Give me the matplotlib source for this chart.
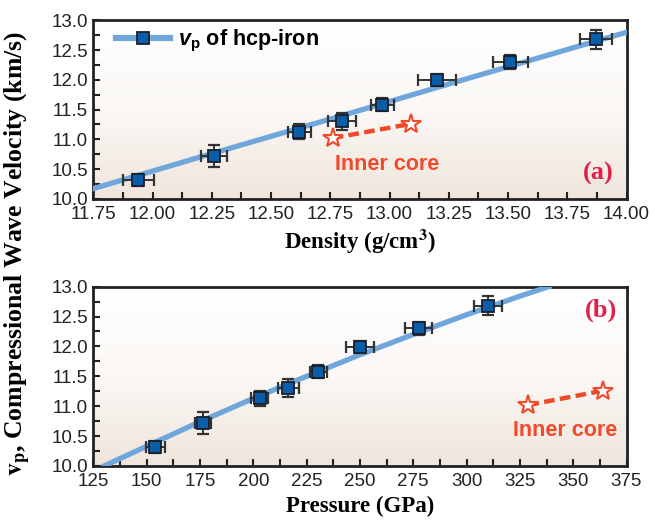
import numpy as np
import matplotlib
matplotlib.use("Agg")
import matplotlib.pyplot as plt
from matplotlib.colors import LinearSegmentedColormap
from matplotlib.ticker import MultipleLocator

plt.rcParams["font.family"] = ["Liberation Sans", "DejaVu Sans"]
plt.rcParams["mathtext.fontset"] = "custom"
plt.rcParams["mathtext.bf"] = "Liberation Sans:bold"
plt.rcParams["mathtext.bfit"] = "Liberation Sans:italic:bold"
plt.rcParams["mathtext.rm"] = "Liberation Sans"

# ── data ────────────────────────────────────────────────────────────────────
vp = [10.32, 10.72, 11.13, 11.30, 11.58, 11.99, 12.30, 12.68]
vp_err = [0.10, 0.19, 0.12, 0.15, 0.11, 0.10, 0.11, 0.16]

density = [11.94, 12.26, 12.62, 12.80, 12.97, 13.20, 13.51, 13.87]
density_err = [0.066, 0.056, 0.050, 0.060, 0.047, 0.080, 0.073, 0.067]

pressure = [154.0, 176.5, 203.0, 216.5, 230.5, 250.0, 277.5, 310.0]
pressure_err = [4.5, 3.9, 4.1, 5.1, 3.9, 6.7, 6.5, 6.6]

# fitted curves
fit_density = [11.75, 12.25, 12.75, 13.25, 13.75, 14.00]
fit_vp_density = [10.17, 10.76, 11.34, 11.93, 12.51, 12.80]
fit_pressure = [130, 150, 175, 200, 225, 250, 275, 300, 325, 338.6]
fit_vp_pressure = [10.00, 10.33, 10.74, 11.13, 11.50, 11.86, 12.20, 12.53, 12.84, 13.00]

# PREM inner core
core_density = [12.76, 13.09]
core_pressure = [329, 364]
core_vp = [11.02, 11.26]

LINE_C = "#6fa6dc"
MARK_FC = "#0a5ea8"
CORE_C = "#f04a2a"
LABEL_C = "#e0204a"

bg_cmap = LinearSegmentedColormap.from_list("bg", ["#ffffff", "#fbf8f5", "#efe5dc"])


def style_axes(ax):
    grad = np.linspace(0, 1, 256).reshape(-1, 1)
    ax.imshow(grad, cmap=bg_cmap, aspect="auto", extent=[0, 1, 0, 1],
              origin="upper", transform=ax.transAxes, zorder=0)
    for s in ax.spines.values():
        s.set_linewidth(2.0)
        s.set_color("#222222")
    ax.tick_params(which="both", direction="in", top=False, right=False,
                   width=1.5, color="#222222", labelsize=13.5, labelcolor="#222222")
    ax.tick_params(which="major", length=5)
    ax.tick_params(which="minor", length=5)
    ax.tick_params(axis="x", pad=5)
    ax.tick_params(axis="y", pad=4)
    ax.set_ylim(10.0, 13.0)
    ax.yaxis.set_major_locator(MultipleLocator(0.5))
    ax.yaxis.set_minor_locator(MultipleLocator(0.25))
    ax.yaxis.set_major_formatter(matplotlib.ticker.FormatStrFormatter("%.1f"))


def draw_points(ax, x, xerr):
    ax.errorbar(x, vp, xerr=xerr, yerr=vp_err, fmt="none", ecolor="#333333",
                elinewidth=1.4, capsize=4, capthick=1.6, zorder=4)
    ax.plot(x, vp, "s", ms=9, mfc=MARK_FC, mec="#1a1f2e", mew=1.3, zorder=5)


fig = plt.figure(figsize=(6.55, 5.23), dpi=100)
ax1 = fig.add_axes([0.1425, 0.620, 0.814, 0.341])
ax2 = fig.add_axes([0.1425, 0.109, 0.814, 0.343])

# ── panel (a): density ──────────────────────────────────────────────────────
style_axes(ax1)
ax1.set_xlim(11.75, 14.0)
ax1.xaxis.set_major_locator(MultipleLocator(0.25))
ax1.xaxis.set_minor_locator(MultipleLocator(0.125))
ax1.xaxis.set_major_formatter(matplotlib.ticker.FormatStrFormatter("%.2f"))
ax1.plot(fit_density, fit_vp_density, color=LINE_C, lw=3.8, zorder=3)
draw_points(ax1, density, density_err)
ax1.plot(core_density, core_vp, color=CORE_C, lw=3.2, ls=(0, (2.4, 1.2)),
         marker="*", ms=15, mfc="white", mec=CORE_C, mew=1.5, zorder=4)
ax1.text(12.77, 10.58, "Inner core", color=CORE_C, fontsize=15.5,
         fontweight="bold", va="center", ha="left")
ax1.text(13.945, 10.43, "(a)", color=LABEL_C, fontsize=19, fontweight="bold",
         family="Liberation Serif", ha="right", va="center")
ax1.set_xlabel(r"Density (g/cm$^\mathbf{3}$)", family="Liberation Serif",
               fontweight="bold", fontsize=16.5, labelpad=4, math_fontfamily="stix")

# legend handle: line with square marker
h, = ax1.plot([], [], color=LINE_C, lw=4.5, marker="s", ms=9, mfc=MARK_FC,
              mec="#1a1f2e", mew=1.3)
ax1.legend([h], [r"$\mathbfit{v}_\mathbf{p}$ of hcp-iron"], loc="center left",
           bbox_to_anchor=(0.026, 0.885), frameon=False, handlelength=2.5,
           borderaxespad=0.0, prop=dict(size=15.5, weight="bold"),
           handletextpad=0.4)

# ── panel (b): pressure ─────────────────────────────────────────────────────
style_axes(ax2)
ax2.set_xlim(125, 375)
ax2.xaxis.set_major_locator(MultipleLocator(25))
ax2.xaxis.set_minor_locator(MultipleLocator(12.5))
ax2.plot(fit_pressure, fit_vp_pressure, color=LINE_C, lw=3.8, zorder=3)
draw_points(ax2, pressure, pressure_err)
ax2.plot(core_pressure, core_vp, color=CORE_C, lw=3.2, ls=(0, (2.4, 1.2)),
         marker="*", ms=15, mfc="white", mec=CORE_C, mew=1.5, zorder=4)
ax2.text(370.5, 10.59, "Inner core", color=CORE_C, fontsize=15.5,
         fontweight="bold", va="center", ha="right")
ax2.text(370.5, 12.6, "(b)", color=LABEL_C, fontsize=19, fontweight="bold",
         family="Liberation Serif", ha="right", va="center")
ax2.set_xlabel("Pressure (GPa)", family="Liberation Serif", fontweight="bold",
               fontsize=16.5, labelpad=4)

fig.text(0.027, 0.515, r"$\mathbf{v}_\mathbf{p}$, Compressional Wave Velocity (km/s)",
         rotation=90, ha="center", va="center", family="Liberation Serif",
         fontweight="bold", fontsize=18.5, math_fontfamily="stix")

fig.savefig("out.png", dpi=100)
